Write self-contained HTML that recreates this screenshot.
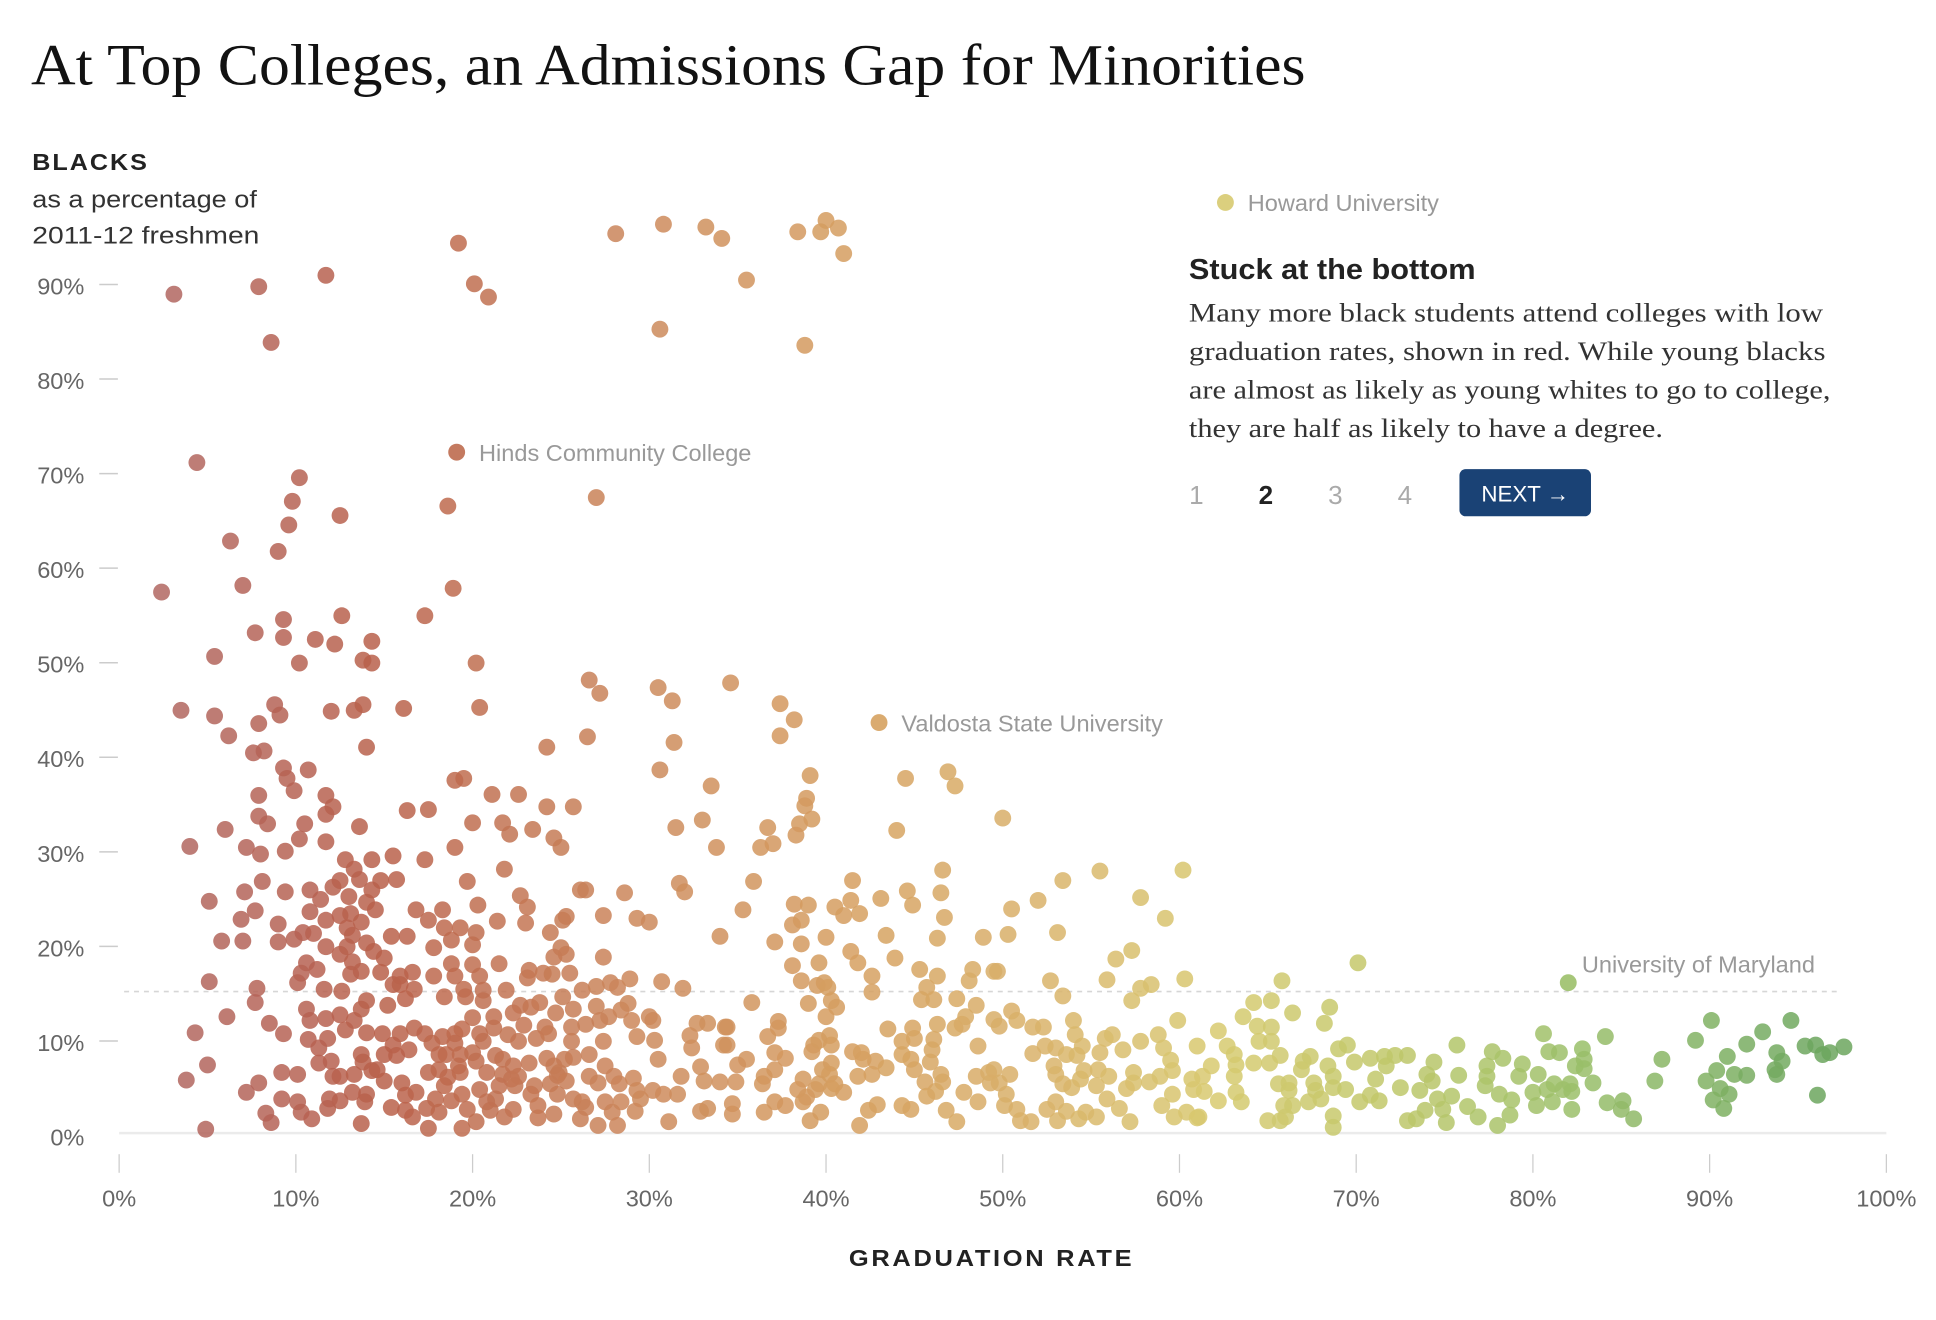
<!DOCTYPE html>
<html><head><meta charset="utf-8">
<style>
html,body{margin:0;padding:0;background:#fff;}
svg{display:block;}
</style></head>
<body>
<svg id="chart" width="1936" height="1320" viewBox="0 0 1560 1063.6" xmlns="http://www.w3.org/2000/svg">
<text x="25" y="68" font-family="Liberation Serif, serif" font-size="47" fill="#121212" textLength="1027" lengthAdjust="spacingAndGlyphs">At Top Colleges, an Admissions Gap for Minorities</text>
<text x="26" y="137" font-family="Liberation Sans, sans-serif" font-weight="bold" font-size="19" fill="#222" letter-spacing="1.5" textLength="94" lengthAdjust="spacingAndGlyphs">BLACKS</text>
<text x="26" y="167" font-family="Liberation Sans, sans-serif" font-size="19.5" fill="#333" textLength="181" lengthAdjust="spacingAndGlyphs">as a percentage of</text>
<text x="26" y="196" font-family="Liberation Sans, sans-serif" font-size="19.5" fill="#333" textLength="183" lengthAdjust="spacingAndGlyphs">2011-12 freshmen</text>
<g id="axes"></g>
<line x1="100" y1="799" x2="1483" y2="799" stroke="#d6d6d6" stroke-width="1.3" stroke-dasharray="4,4"/>
<g id="dots"></g>
<g id="annotations"></g>
<text x="799" y="1020" text-anchor="middle" font-family="Liberation Sans, sans-serif" font-weight="bold" font-size="19" fill="#222" letter-spacing="2" textLength="230" lengthAdjust="spacingAndGlyphs">GRADUATION RATE</text>
<g>
<text x="958" y="225" font-family="Liberation Sans, sans-serif" font-weight="bold" font-size="23" fill="#222" textLength="231" lengthAdjust="spacingAndGlyphs">Stuck at the bottom</text>
<g font-family="Liberation Serif, serif" font-size="21" fill="#333">
<text x="958" y="259" textLength="511" lengthAdjust="spacingAndGlyphs">Many more black students attend colleges with low</text>
<text x="958" y="290" textLength="513" lengthAdjust="spacingAndGlyphs">graduation rates, shown in red. While young blacks</text>
<text x="958" y="321" textLength="517" lengthAdjust="spacingAndGlyphs">are almost as likely as young whites to go to college,</text>
<text x="958" y="352" textLength="382" lengthAdjust="spacingAndGlyphs">they are half as likely to have a degree.</text>
</g>
<g font-family="Liberation Sans, sans-serif" font-size="21">
<text x="964" y="406" text-anchor="middle" fill="#aaa">1</text>
<text x="1020" y="406" text-anchor="middle" fill="#222" font-weight="bold">2</text>
<text x="1076" y="406" text-anchor="middle" fill="#aaa">3</text>
<text x="1132" y="406" text-anchor="middle" fill="#aaa">4</text>
</g>
<g>
<rect x="1176" y="378" width="106" height="38" rx="5" fill="#1a4275"/>
<text x="1229" y="404" text-anchor="middle" font-family="Liberation Sans, sans-serif" font-size="18" fill="#fff">NEXT →</text>
</g>
</g>
</svg>
<script>
const xTicks = [0,10,20,30,40,50,60,70,80,90,100];
const xTickLabels = ["0%","10%","20%","30%","40%","50%","60%","70%","80%","90%","100%"];
const yTicks = [0,10,20,30,40,50,60,70,80,90];
const yTickLabels = ["0%","10%","20%","30%","40%","50%","60%","70%","80%","90%"];
const highlightNames = ["Howard University","Hinds Community College","Valdosta State University","University of Maryland"];
const highlightGrad = [62.6,19.1,43,82];
const highlightPct = [98.8,72.4,43.8,16.3];
const upperPoints = [[3.1,89.1],[7.9,89.9],[11.7,91.1],[8.6,84],[19.2,94.5],[20.1,90.2],[20.9,88.8],[28.1,95.5],[30.8,96.5],[33.2,96.2],[34.1,95],[35.5,90.6],[30.6,85.4],[38.4,95.7],[40,96.9],[39.7,95.7],[40.7,96.1],[41,93.4],[38.8,83.7],[4.4,71.3],[10.2,69.7],[9.8,67.2],[9.6,64.7],[12.5,65.7],[18.6,66.7],[27,67.6],[6.3,63],[9,61.9],[7,58.3],[2.4,57.6],[18.9,58],[9.3,54.7],[12.6,55.1],[17.3,55.1],[5.4,50.8],[7.7,53.3],[9.3,52.8],[11.1,52.6],[12.2,52.1],[14.3,52.4],[10.2,50.1],[13.8,50.4],[14.3,50.1],[20.2,50.1],[3.5,45.1],[5.4,44.5],[6.2,42.4],[7.9,43.7],[8.8,45.7],[9.1,44.6],[12,45],[13.3,45.1],[13.8,45.7],[16.1,45.3],[20.4,45.4],[7.6,40.6],[8.2,40.8],[9.3,39],[9.5,37.9],[10.7,38.8],[14,41.2],[24.2,41.2],[26.5,42.3],[26.6,48.3],[27.2,46.9],[30.5,47.5],[31.3,46.1],[31.4,41.7],[30.6,38.8],[34.6,48],[37.4,45.8],[38.2,44.1],[37.4,42.4],[39.1,38.2],[44.5,37.9],[46.9,38.6],[47.3,37.1],[50,33.7],[33.5,37.1]];
const midPoints = [[4,30.7],[6,32.5],[7.9,33.9],[8.4,33.1],[10.5,33.1],[11.7,34.1],[12.1,34.9],[13.6,32.8],[7.9,36.1],[9.9,36.6],[11.7,36.1],[7.2,30.6],[8,29.9],[9.4,30.2],[10.2,31.5],[11.7,31.2],[12.8,29.3],[13.3,28.3],[14.3,29.3],[15.5,29.7],[16.3,34.5],[17.5,34.6],[17.3,29.3],[19,30.6],[20,33.2],[21.1,36.2],[21.7,33.2],[22.6,36.2],[24.2,34.9],[25.7,34.9],[22.1,32],[23.4,32.5],[24.6,31.6],[25,30.6],[19.5,37.9],[19,37.7],[21.8,28.3],[33.8,30.6],[36.7,32.7],[37,31],[38.5,33.1],[39.2,33.6],[38.8,35],[38.9,35.8],[31.5,32.7],[33,33.5],[36.3,30.6],[38.3,31.9],[44,32.4],[46.6,28.2],[55.5,28.1],[60.2,28.2]];
const lowerLeft = [[5.1,24.9],[7.1,25.9],[8.1,27],[9.4,25.9],[10.8,26.1],[11.4,25.1],[12.1,26.4],[12.5,27.1],[13.6,27.2],[14.8,27.1],[15.7,27.2],[13,25.4],[14.3,26.1],[10.8,23.8],[11.7,22.9],[12.5,23.4],[13.1,23.6],[14,24.8],[14.5,24],[13.7,22.7],[16.8,24],[18.3,24],[19.7,27],[20.3,24.5],[6.9,23],[7.7,23.9],[9,22.5],[5.8,20.7],[7,20.7],[9,20.6],[9.9,20.9],[10.4,21.6],[11,21.5],[11.7,20.1],[12.5,19.3],[12.9,22.1],[13.2,21.3],[12.9,20.1],[14,20.5],[14.4,19.6],[15,18.9],[15.4,21.2],[16.3,21.2],[17.5,22.9],[18.4,22.1],[19.3,22.1],[18.8,20.8],[20.2,21.6],[20,20.3],[17.8,20],[21.4,22.8],[22.7,25.5],[23.1,24.3],[23,22.6],[24.4,21.6],[25.1,22.9],[25.3,23.3],[26.1,26.1],[26.4,26.1],[27.4,23.4],[28.6,25.8],[29.3,23.1],[30,22.7],[31.7,26.8],[32,25.9],[34,21.2],[25,20],[25.3,19.3],[24.6,19],[27.4,19],[21.5,18.3],[18.8,18.3],[20,18.2],[20.4,17],[19,17],[17.8,17],[16.6,17.4],[15.9,17],[15.5,16.1],[14.8,17.4],[13.7,17.5],[13.1,17.2],[13.2,18.5],[11.2,17.7],[10.6,18.4],[10.3,17.3],[10.1,16.3],[5.1,16.4],[7.8,15.7],[7.7,14.2],[6.1,12.7],[4.3,11],[5,7.6],[3.8,6],[4.9,0.8],[8.5,12],[9.3,10.9],[10.6,13.5],[10.8,12.3],[11.7,12.5],[12.5,12.9],[13.3,12.3],[13.7,13.5],[14,14.4],[11.6,15.6],[12.6,15.4],[15.2,13.9],[16.2,14.6],[16.7,15.6],[15.9,16.1],[18.4,14.8],[19.5,15.6],[19.6,14.8],[20.6,15.5],[20.6,14.4],[21.9,15.5],[23.2,17.6],[24,17.3],[24.5,17.2],[25.5,17.3],[23.1,16.8],[26.2,15.5],[27,15.9],[27.8,16.3],[28.2,15.8],[28.9,16.7],[30.7,16.4],[31.9,15.7],[25.1,14.8],[22.3,13.1],[22.7,13.9],[23.3,13.7],[23.8,14.2],[24.7,13.1],[25.7,13.5],[27,13.8],[27.7,12.7],[28.4,13.4],[28.8,14.1],[27.2,12.3],[26.4,11.9],[25.6,11.6],[29,12.3],[30,12.7],[30.2,12.3],[22.9,11.8],[24.1,11.6],[21.2,12.7],[21.2,11.5],[20,12.6],[22,10.8],[22.6,10.1],[23.6,10.4],[24.3,10.9],[25.6,10.1],[27.4,10.1],[29.3,10.6],[30.3,10.2],[32.7,12],[33.3,12],[34.3,11.6],[32.3,10.7],[34.2,9.7],[32.4,9.4],[14,11],[14.9,10.9],[15.9,10.9],[16.7,11.5],[17.3,10.9],[18.3,10.6],[19,10.9],[19.4,11.4],[20.4,10.9],[20.6,10.1],[17.7,9.9],[19,9.9],[15.5,9.7],[16.4,9.2],[15.7,8.6],[15,8.7],[13.7,8.7],[13.8,7.9],[14.6,7.1],[11.3,7.8],[12,8],[10.7,10.3],[11.8,10.4],[11.3,9.4],[12.8,11.3],[18.1,8.7],[18.5,8.7],[19.3,8.7],[19.2,7.5],[20,8.9],[20.2,8],[21.3,8.6],[21.7,8.2],[23.2,7.8],[22.3,7.5],[24.2,8.3],[25.2,8.2],[25.7,8.4],[26.6,8.7],[27.5,7.5],[24.6,7.5],[24.9,6.8],[30.5,8.2],[32.9,7.4],[9.2,6.8],[10.1,6.6],[12.1,6.4],[12.5,6.4],[13.3,6.6],[14.3,7],[15,5.9],[16,5.7],[17.5,6.8],[18.1,7.1],[18.6,6.3],[18.4,5.4],[19.3,6.8],[20.8,6.8],[21.7,6.6],[22.2,6.1],[22.6,6.4],[21.5,5.4],[22.4,5.4],[23.5,5.4],[24.4,5.6],[24.8,6.5],[25.3,5.9],[26.6,6.4],[27.1,5.7],[28,6.4],[28.3,5.6],[29.1,6.2],[29.3,4.9],[30.2,4.9],[30.8,4.5],[31.6,4.5],[31.8,6.4],[33.1,5.9],[7.9,5.7],[7.2,4.7],[9.2,4],[10.1,3.7],[10.3,2.6],[10.9,1.9],[8.3,2.5],[8.6,1.5],[11.9,4],[12.5,3.8],[11.8,3],[13.2,4.7],[14,4.5],[13.9,3.7],[13.7,1.4],[15.4,3.1],[16.2,4.4],[16.8,4.7],[16.2,2.8],[16.6,2.1],[17.4,3],[18.1,2.6],[17.5,0.9],[17.9,4],[18.8,3.8],[19.4,4.5],[19.7,2.9],[20.2,1.6],[19.4,0.9],[20.4,5],[20.8,3.7],[21.3,4],[21,2.8],[21.8,2.1],[22.3,2.9],[23.3,4.5],[23.7,3.3],[23.7,2],[24.6,2.4],[24.8,4.5],[25.7,4],[26.2,3.7],[26.4,3.1],[26.1,1.9],[27.1,1.2],[27.5,3.7],[27.9,2.6],[28.2,1.2],[28.4,3.7],[29.5,4],[29.2,2.7],[31.1,1.6],[32.9,2.7],[33.3,3]];
const lowerMid = [[35.9,27],[35.3,24],[38.2,24.6],[39,24.5],[40.5,24.3],[41,23.4],[41.4,25],[41.9,23.6],[43.1,25.2],[44.6,26],[44.9,24.5],[46.5,25.8],[46.7,23.2],[41.5,27.1],[38.1,22.4],[38.6,22.9],[37.1,20.6],[38.6,20.4],[40,21.1],[43.4,21.3],[46.3,21],[48.9,21.1],[50.3,21.4],[50.5,24.1],[52,25],[53.1,21.6],[53.4,27.1],[57.8,25.3],[59.2,23.1],[57.3,19.7],[56.4,18.8],[55.9,16.6],[60.3,16.7],[58.4,16.1],[57.8,15.7],[57.3,14.4],[65.8,16.5],[52.7,16.5],[53.4,14.9],[49.5,17.5],[49.7,17.5],[48.3,17.7],[48.1,16.5],[46.3,17],[45.3,17.7],[43.9,18.9],[42.6,17],[42.6,15.3],[41.8,18.4],[41.4,19.6],[39.6,18.4],[38.1,18.1],[38.6,16.5],[39.5,16],[39.9,16.3],[40.1,15.8],[35.8,14.2],[39,14.1],[40.3,14.4],[40.6,13.7],[40,12.7],[45.7,15.8],[45.4,14.5],[46.1,14.5],[47.4,14.6],[48.5,13.9],[47.9,12.7],[47.7,11.9],[47.3,11.5],[49.5,12.4],[49.8,11.7],[50.5,13.3],[50.8,12.3],[51.7,11.6],[52.3,11.6],[54,12.3],[54.1,10.8],[54.5,9.6],[53,9.4],[52.4,9.6],[51.7,8.8],[55.8,10.4],[56.2,10.8],[55.5,8.9],[56.8,9.2],[57.8,10.1],[58.8,10.8],[59.1,9.4],[59.9,12.3],[61,9.6],[62.2,11.2],[62.7,9.6],[63.6,12.7],[64.4,11.7],[64.5,10.1],[64.2,14.2],[64.2,7.8],[63.1,8.7],[63.2,7.6],[63.1,6.4],[63.2,4.7],[63.5,3.7],[62.2,3.8],[61.8,7.5],[61.3,6.4],[60.7,6.1],[60.8,5],[61.4,4.8],[60.4,2.6],[61.1,2.1],[59.7,2.1],[59,3.3],[59.6,4.5],[59.5,8.1],[59.6,7],[58.9,6.4],[58.3,5.8],[57.4,6.8],[57.4,5.7],[57,5.1],[57.2,1.6],[56.6,3],[55.9,4],[55.4,7.1],[56,6.4],[55.3,5.4],[54.6,7],[54.4,6.1],[53.9,5.2],[53.4,5.6],[53,6.6],[52.9,7.5],[53.6,8.7],[54.2,8.6],[55.3,2.1],[54.7,2.6],[54.3,1.9],[53.6,2.7],[53.1,1.7],[52.5,2.9],[53,3.7],[51.6,1.6],[50.8,2.9],[51,1.7],[50.1,3.3],[50.2,4.5],[50.4,6.6],[49.8,5.7],[49.3,5.7],[49.5,7.1],[49.2,6.8],[48.5,6.4],[48.6,9.6],[48.6,3.7],[47.8,4.7],[46.8,2.8],[47.4,1.6],[46.5,6.6],[46.6,5.8],[46.2,4.8],[45.7,4.3],[45.6,5.8],[45,7.1],[44.8,8.2],[44.3,8.7],[44.3,10.1],[45,10.4],[44.9,11.5],[46.1,10.3],[46,9.2],[45.9,7.9],[46.3,11.9],[43.5,11.4],[42.8,8],[43.4,7.3],[42.6,6.6],[41.8,6.4],[42.1,8.2],[41.5,9],[42,8.9],[40.3,9.7],[40.2,10.7],[39.3,9.7],[39.2,9],[39.6,10.2],[40.3,7.8],[39.8,7.1],[40.2,6.6],[40.5,5.6],[41,4.7],[40.3,5.1],[39.6,5.6],[39.4,5],[38.7,6.1],[38.4,5],[38.9,4.2],[38.7,3.7],[39.7,2.6],[39.1,1.7],[37.7,3.3],[37.1,3.7],[36.5,2.6],[36.5,6.4],[36.4,5.6],[37.1,7.1],[37.1,8.9],[37.7,8.3],[36.7,10.6],[37.3,12.2],[37.3,11.5],[35.5,8.2],[35,7.6],[34.9,5.8],[34.4,11.6],[34.4,9.7],[34,5.8],[34.7,3.5],[34.7,2.4],[42.4,2.8],[42.9,3.4],[44.3,3.3],[44.8,2.9],[41.9,1.2],[61,2],[65,1.7]];
const lowerRight = [[70.1,18.4],[65.2,14.4],[66.4,13.1],[68.5,13.7],[68.2,12],[65.2,11.6],[65.2,10.1],[65.7,8.6],[65.1,7.8],[67,8],[67.4,8.5],[66.9,7.1],[65.6,5.6],[66.2,5.7],[66.2,4.9],[67.6,5.7],[67.7,4.9],[68,4],[67.3,3.7],[65.9,3.3],[66.4,3.3],[66,2.1],[65.7,1.7],[68.4,7.5],[68.7,6.4],[68.7,5.2],[69.4,5],[69,9.3],[69.5,9.7],[69.9,7.9],[68.7,2.2],[68.7,1],[70.2,3.7],[70.8,4.4],[71.3,3.8],[71.1,6.1],[70.8,8.3],[71.6,8.5],[71.7,7.5],[72.2,8.6],[72.9,8.6],[72.5,5.2],[72.9,1.7],[73.4,1.9],[73.9,2.8],[73.6,4.9],[74,6.6],[74.3,5.9],[74.4,7.9],[74.6,4],[74.9,2.9],[75.1,1.5],[75.4,4.3],[75.8,6.5],[75.7,9.7],[76.3,3.2],[76.9,2.1],[77.3,5.4],[77.4,6.4],[77.4,7.5],[77.7,9],[78.3,8.3],[78.1,4.5],[78,1.2],[78.8,3.9],[78.7,2.3],[79.2,6.4],[79.4,7.7],[80,4.7],[80.3,6.6],[80.2,3.3],[80.6,10.9],[80.9,9],[81.5,8.9],[80.8,5],[81.2,5.6],[81.1,3.7],[81.7,5],[82.1,5.6],[82.2,4.8],[82.2,2.9],[82.4,7.5],[82.8,9.3],[82.9,8.2],[82.9,7.2],[83.4,5.7],[84.1,10.6],[84.2,3.6],[85.1,3.8],[85,2.9],[85.7,1.9],[86.9,5.9],[87.3,8.2],[89.2,10.2],[90.1,12.3],[89.8,5.9],[90.4,7],[91,8.5],[90.6,5.1],[91.1,4.5],[90.2,3.9],[90.8,3],[91.4,6.6],[92.1,6.5],[92.1,9.8],[93,11.1],[93.8,8.9],[94.1,8],[93.7,7.1],[93.8,6.6],[94.6,12.3],[95.4,9.6],[96,9.7],[96.4,8.7],[96.8,8.9],[97.6,9.5],[96.1,4.4]];

const NS = "http://www.w3.org/2000/svg";
function xScale(v){ return 96 + v * 14.24; }
function yScale(v){ return 916 - v * 7.62; }
const colorStops = [[0,[176,104,102]],[15,[185,96,74]],[30,[205,138,92]],[42,[214,160,96]],[52,[217,178,106]],[62,[216,202,112]],[72,[192,200,106]],[82,[156,192,106]],[96,[108,166,94]]];
function colorFor(g){
  for(let i=1;i<colorStops.length;i++){
    if(g<=colorStops[i][0]){
      const a=colorStops[i-1],b=colorStops[i];
      const t=Math.max(0,(g-a[0])/(b[0]-a[0]));
      const c=a[1].map((v,k)=>Math.round(v+(b[1][k]-v)*t));
      return "rgb("+c.join(",")+")";
    }
  }
  const c=colorStops[colorStops.length-1][1];
  return "rgb("+c.join(",")+")";
}
const axes=document.getElementById("axes");
function mk(tag,attrs){ const e=document.createElementNS(NS,tag); for(const k in attrs) e.setAttribute(k,attrs[k]); return e; }
const base=mk("line",{x1:96,y1:913,x2:1520,y2:913,stroke:"#ebebeb","stroke-width":2});


axes.appendChild(base);
xTicks.forEach((t,i)=>{
  const l=mk("line",{x1:xScale(t),y1:930,x2:xScale(t),y2:945,stroke:"#ccc","stroke-width":1});
  
  
  axes.appendChild(l);
  const tx=mk("text",{x:xScale(t),y:972,"text-anchor":"middle","font-family":"Liberation Sans, sans-serif","font-size":"19",fill:"#666"});
  
  
  tx.textContent=xTickLabels[i];
  axes.appendChild(tx);
});
yTicks.forEach((t,i)=>{
  const y=yScale(t);
  if(t>0){
    const l=mk("line",{x1:80,y1:y-1,x2:95,y2:y-1,stroke:"#ccc","stroke-width":1.2});
    
    
    axes.appendChild(l);
  }
  const tx=mk("text",{x:68,y:y+7,"text-anchor":"end","font-family":"Liberation Sans, sans-serif","font-size":"19",fill:"#666"});
  
  
  tx.textContent=yTickLabels[i];
  axes.appendChild(tx);
});
const dots=document.getElementById("dots");
const allPoints=[].concat(upperPoints,midPoints,lowerLeft,lowerMid,lowerRight);
allPoints.forEach(p=>{
  const c=mk("circle",{cx:xScale(p[0]),cy:yScale(p[1]),r:6.8,fill:colorFor(p[0]),"fill-opacity":0.85});
  
  
  dots.appendChild(c);
});
const ann=document.getElementById("annotations");
highlightNames.forEach((n,i)=>{
  const cx=xScale(highlightGrad[i]), cy=yScale(highlightPct[i]);
  const c=mk("circle",{cx:cx,cy:cy,r:6.8,fill:colorFor(highlightGrad[i]),"fill-opacity":0.9});
  
  
  ann.appendChild(c);
  const isMd = n==="University of Maryland";
  const tx=mk("text",{x:isMd?cx+11:cx+18,y:isMd?cy-8:cy+7,"font-family":"Liberation Sans, sans-serif","font-size":"19",fill:"#999"});
  
  
  tx.textContent=n;
  ann.appendChild(tx);
});
</script>
</body></html>
